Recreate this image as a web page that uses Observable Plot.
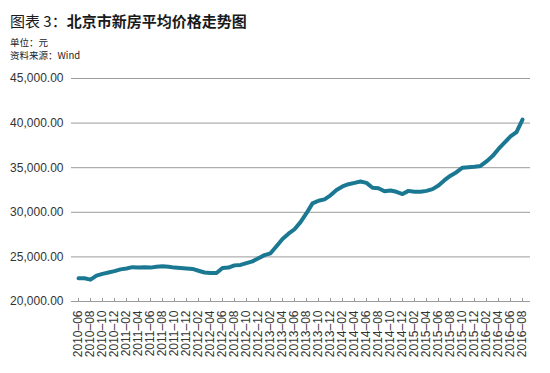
<!DOCTYPE html>
<html>
<head>
<meta charset="utf-8">
<script src="https://cdn.jsdelivr.net/npm/d3@7"></script>
<script src="https://cdn.jsdelivr.net/npm/@observablehq/plot@0.6"></script>
<style>
  html, body { margin: 0; padding: 0; background: #fff; }
  body { width: 550px; height: 373px; position: relative; overflow: hidden; font-family: "Liberation Sans", Arial, "Noto Sans CJK SC", sans-serif; }
  #header { position: relative; height: 65px; }
  #title { position: absolute; left: 10px; top: 11px; font-family: "Noto Sans CJK SC", sans-serif; font-size: 15px; line-height: 20px; color: #1a1a1a; white-space: nowrap; }
  #title b { font-weight: 700; }
  #title span { font-weight: 400; }
  .sub { position: absolute; left: 10px; font-family: "Noto Sans CJK SC", sans-serif; font-size: 9.5px; line-height: 12px; color: #222; white-space: nowrap; }
  #chart svg { display: block; }
</style>
</head>
<body>
<div id="header">
  <div id="title"><span>图表 3：</span><b>北京市新房平均价格走势图</b></div>
  <div class="sub" style="top:36px">单位：元</div>
  <div class="sub" style="top:49px">资料来源：Wind</div>
</div>
<div id="chart"></div>
<script>
const months = [
  "2010-06","2010-07","2010-08","2010-09","2010-10","2010-11","2010-12",
  "2011-01","2011-02","2011-03","2011-04","2011-05","2011-06","2011-07","2011-08","2011-09","2011-10","2011-11","2011-12",
  "2012-01","2012-02","2012-03","2012-04","2012-05","2012-06","2012-07","2012-08","2012-09","2012-10","2012-11","2012-12",
  "2013-01","2013-02","2013-03","2013-04","2013-05","2013-06","2013-07","2013-08","2013-09","2013-10","2013-11","2013-12",
  "2014-01","2014-02","2014-03","2014-04","2014-05","2014-06","2014-07","2014-08","2014-09","2014-10","2014-11","2014-12",
  "2015-01","2015-02","2015-03","2015-04","2015-05","2015-06","2015-07","2015-08","2015-09","2015-10","2015-11","2015-12",
  "2016-01","2016-02","2016-03","2016-04","2016-05","2016-06","2016-07","2016-08"
];
const prices = [
  22600,22600,22450,22900,23100,23250,23400,
  23600,23700,23850,23800,23850,23800,23900,23950,23900,23800,23750,23700,
  23650,23450,23250,23200,23200,23750,23800,24050,24100,24300,24500,24850,
  25200,25400,26200,27000,27600,28100,28900,29900,31000,31300,31450,31900,
  32500,32900,33150,33300,33450,33300,32750,32700,32350,32450,32300,32050,
  32400,32300,32300,32400,32600,33000,33600,34100,34500,35000,35050,35100,
  35200,35700,36300,37100,37800,38500,39000,40400
];
const xTickLabels = [
  "2010-06","2010-08","2010-10","2010-12","2011-02","2011-04","2011-06","2011-08","2011-10","2011-12",
  "2012-02","2012-04","2012-06","2012-08","2012-10","2012-12","2013-02","2013-04","2013-06","2013-08",
  "2013-10","2013-12","2014-02","2014-04","2014-06","2014-08","2014-10","2014-12","2015-02","2015-04",
  "2015-06","2015-08","2015-10","2015-12","2016-02","2016-04","2016-06","2016-08"
];
const yTicks = [20000, 25000, 30000, 35000, 40000, 45000];

const data = months.map((m, i) => ({month: m, price: prices[i]}));
const fmtY = d3.format(",.2f");

const chart = Plot.plot({
  width: 550,
  height: 308,
  marginTop: 13,
  marginBottom: 72,
  marginLeft: 71,
  marginRight: 20,
  style: {fontFamily: "'Liberation Sans', Arial, sans-serif", fontSize: "12px", color: "#333", background: "#fff"},
  x: {type: "point", domain: months, ticks: xTickLabels, tickFormat: d => d.replace("-", "\u2013"), tickRotate: -90, tickSize: 0, tickPadding: 9, label: null, insetLeft: 1, insetRight: 3},
  y: {domain: [20000, 45000], ticks: yTicks, tickFormat: fmtY, tickSize: 0, tickPadding: 8, label: null},
  marks: [
    Plot.ruleY(yTicks, {stroke: "#9b9b9b", strokeWidth: 1}),
    Plot.ruleX(xTickLabels, {x: d => d, y1: 20000, y2: 20000, insetTop: -3, stroke: "#9b9b9b", strokeWidth: 1}),
    Plot.line(data, {x: "month", y: "price", stroke: "#1b7892", strokeWidth: 4, strokeLinejoin: "round", strokeLinecap: "round"})
  ]
});
document.getElementById("chart").appendChild(chart);
</script>
</body>
</html>
